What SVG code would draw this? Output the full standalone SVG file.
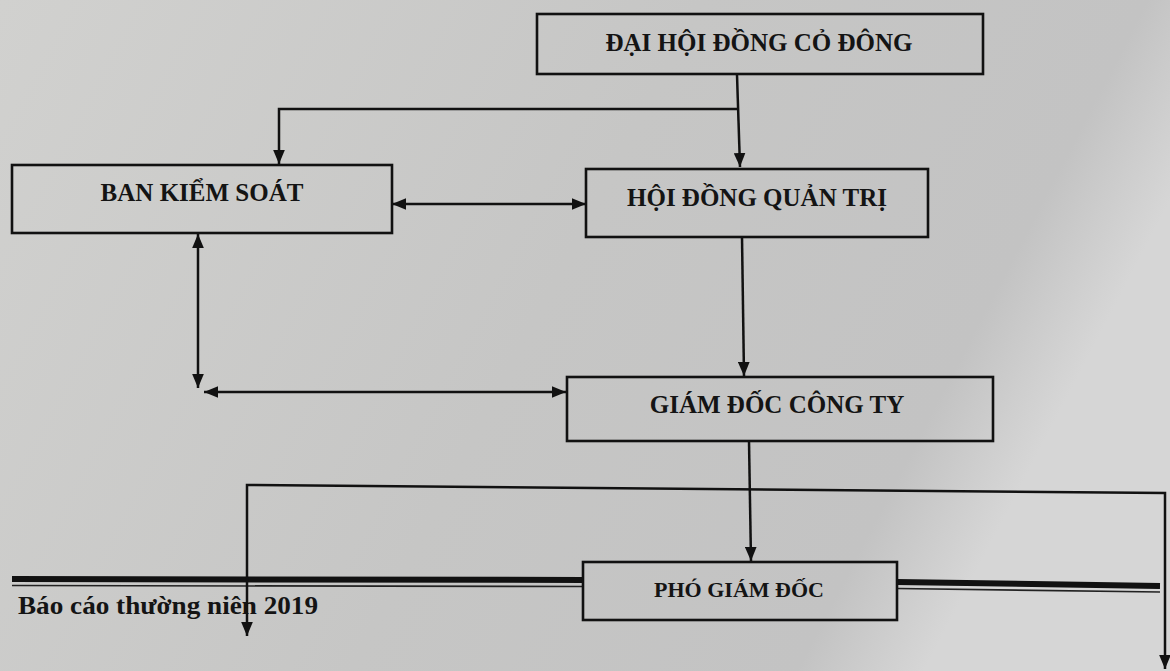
<svg xmlns="http://www.w3.org/2000/svg" width="1170" height="671" viewBox="0 0 1170 671">
  <defs>
    <linearGradient id="bg" x1="0" y1="0" x2="1" y2="0.3">
      <stop offset="0" stop-color="#d1d1cf"/>
      <stop offset="0.55" stop-color="#c6c6c5"/>
      <stop offset="0.9" stop-color="#c3c3c3"/>
      <stop offset="1" stop-color="#d6d6d6"/>
    </linearGradient>
    <marker id="ah" viewBox="0 0 12 10" refX="12" refY="5" markerWidth="14" markerHeight="12" markerUnits="userSpaceOnUse" orient="auto-start-reverse">
      <path d="M0,0 L12,5 L0,10 Z" fill="#111"/>
    </marker>
    <style>
      .box { fill: none; stroke: #111; stroke-width: 2.6; }
      .lbl { font-family: "Liberation Serif", "Times New Roman", serif; font-weight: bold; fill: #141414; text-anchor: middle; }
      .con { fill: none; stroke: #111; stroke-width: 2.5; }
      .foot { font-family: "Liberation Serif", "Times New Roman", serif; font-weight: bold; fill: #141414; }
    </style>
  </defs>

  <rect x="0" y="0" width="1170" height="671" fill="url(#bg)"/>

  <!-- footer rule -->
  <g id="footer">
    <path d="M12,579 L583,580" stroke="#111" stroke-width="6" fill="none"/>
    <path d="M12,585.5 L583,586.5" stroke="#222" stroke-width="1.6" fill="none"/>
    <path d="M897,582 L1160,586" stroke="#111" stroke-width="6" fill="none"/>
    <path d="M897,588.5 L1160,592" stroke="#222" stroke-width="1.6" fill="none"/>
    <text class="foot" x="18" y="614" font-size="26" textLength="300" lengthAdjust="spacingAndGlyphs">Báo cáo thường niên 2019</text>
  </g>

  <g id="connectors">
    <path class="con" d="M737,75 L740,167" marker-end="url(#ah)"/>
    <path class="con" d="M738,109 H279 V164" marker-end="url(#ah)"/>
    <path class="con" d="M392,204 H586" marker-start="url(#ah)" marker-end="url(#ah)"/>
    <path class="con" d="M742,237 L744,376" marker-end="url(#ah)"/>
    <path class="con" d="M198,234 V388" marker-start="url(#ah)" marker-end="url(#ah)"/>
    <path class="con" d="M204,392 H566" marker-start="url(#ah)" marker-end="url(#ah)"/>
    <path class="con" d="M749,441 L751,561" marker-end="url(#ah)"/>
    <path class="con" d="M247,636 V485 L1165,493 V669" marker-start="url(#ah)" marker-end="url(#ah)"/>
  </g>

  <g id="dai-hoi-dong-co-dong">
    <rect class="box" x="537" y="14" width="446" height="60"/>
    <text class="lbl" x="759" y="51" font-size="25">ĐẠI HỘI ĐỒNG CỎ ĐÔNG</text>
  </g>

  <g id="ban-kiem-soat">
    <rect class="box" x="12" y="165" width="380" height="68"/>
    <text class="lbl" x="202" y="201" font-size="25">BAN KIỂM SOÁT</text>
  </g>

  <g id="hoi-dong-quan-tri">
    <rect class="box" x="586" y="169" width="342" height="68"/>
    <text class="lbl" x="757" y="206" font-size="25">HỘI ĐỒNG QUẢN TRỊ</text>
  </g>

  <g id="giam-doc-cong-ty">
    <rect class="box" x="567" y="377" width="426" height="64"/>
    <text class="lbl" x="777" y="413" font-size="25">GIÁM ĐỐC CÔNG TY</text>
  </g>

  <g id="pho-giam-doc">
    <rect class="box" x="583" y="562" width="314" height="58"/>
    <text class="lbl" x="739" y="597" font-size="22">PHÓ GIÁM ĐỐC</text>
  </g>
</svg>
